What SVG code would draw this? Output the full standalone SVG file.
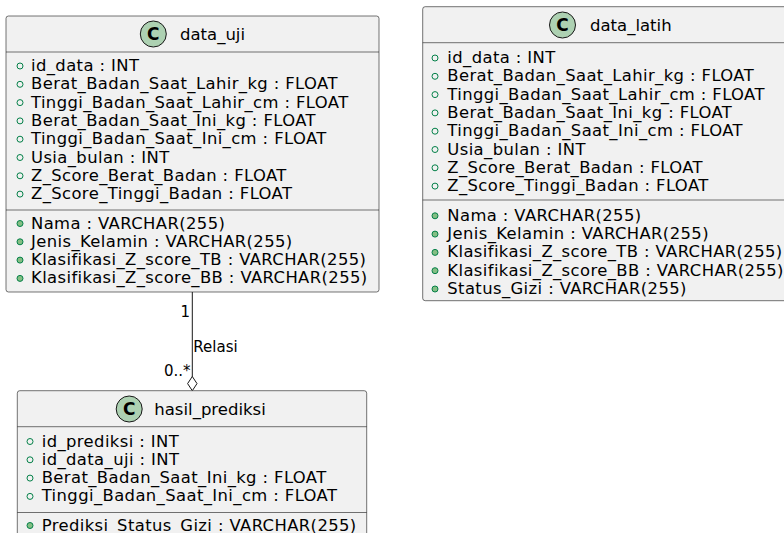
<svg xmlns="http://www.w3.org/2000/svg" width="784" height="533" viewBox="0 0 784 533">
<style>
.box{fill:#F1F1F1;stroke:#181818;stroke-width:0.6}
.sep{stroke:#181818;stroke-width:0.6}
.m{font-family:"DejaVu Sans",sans-serif;font-size:16.4px;letter-spacing:0.4px;fill:#000}
.t{font-family:"DejaVu Sans",sans-serif;font-size:16.5px;fill:#000}
.lbl{font-family:"DejaVu Sans",sans-serif;font-size:15px;fill:#000}
.ci{fill:#ADD1B2;stroke:#181818;stroke-width:1}
.cl{font-family:"DejaVu Sans",sans-serif;font-size:17px;font-weight:bold;fill:#000}
.fo{fill:none;stroke:#038048;stroke-width:1}
.mo{fill:#84BE84;stroke:#038048;stroke-width:1}
.edge{stroke:#181818;stroke-width:1;fill:none}
</style>
<g id="connectors">
<line class="edge" x1="192.3" y1="292" x2="192.3" y2="377"/>
<polygon points="192.3,376.5 197,383.6 192.3,390.7 187.6,383.6" fill="#FFFFFF" stroke="#181818" stroke-width="1"/>
<text class="lbl" x="190" y="316.7" text-anchor="end">1</text>
<text class="lbl" x="193.3" y="351.7">Relasi</text>
<text class="lbl" x="190.5" y="375.7" text-anchor="end">0..*</text>
</g>
<g id="data_uji">
<rect class="box" x="6" y="16" width="373" height="276" rx="2.5"/>
<line class="sep" x1="6" y1="52" x2="379" y2="52"/>
<line class="sep" x1="6" y1="210" x2="379" y2="210"/>
<circle class="ci" cx="153.3" cy="34" r="13"/>
<text class="cl" x="153.3" y="40" text-anchor="middle">C</text>
<text class="t" x="180" y="39.5">data_uji</text>
<circle class="fo" cx="20" cy="66" r="3"/><text class="m" x="31" y="71">id_data : INT</text>
<circle class="fo" cx="20" cy="84.3" r="3"/><text class="m" x="31" y="89.3">Berat_Badan_Saat_Lahir_kg : FLOAT</text>
<circle class="fo" cx="20" cy="102.6" r="3"/><text class="m" x="31" y="107.6">Tinggi_Badan_Saat_Lahir_cm : FLOAT</text>
<circle class="fo" cx="20" cy="120.9" r="3"/><text class="m" x="31" y="125.9">Berat_Badan_Saat_Ini_kg : FLOAT</text>
<circle class="fo" cx="20" cy="139.2" r="3"/><text class="m" x="31" y="144.2">Tinggi_Badan_Saat_Ini_cm : FLOAT</text>
<circle class="fo" cx="20" cy="157.5" r="3"/><text class="m" x="31" y="162.5">Usia_bulan : INT</text>
<circle class="fo" cx="20" cy="175.8" r="3"/><text class="m" x="31" y="180.8">Z_Score_Berat_Badan : FLOAT</text>
<circle class="fo" cx="20" cy="194.1" r="3"/><text class="m" x="31" y="199.1">Z_Score_Tinggi_Badan : FLOAT</text>
<circle class="mo" cx="20" cy="223.5" r="3"/><text class="m" x="31" y="228.5">Nama : VARCHAR(255)</text>
<circle class="mo" cx="20" cy="241.8" r="3"/><text class="m" x="31" y="246.8">Jenis_Kelamin : VARCHAR(255)</text>
<circle class="mo" cx="20" cy="260.1" r="3"/><text class="m" x="31" y="265.1">Klasifikasi_Z_score_TB : VARCHAR(255)</text>
<circle class="mo" cx="20" cy="278.4" r="3"/><text class="m" x="31" y="283.4">Klasifikasi_Z_score_BB : VARCHAR(255)</text>
</g>
<g id="data_latih">
<rect class="box" x="422.7" y="6.7" width="380" height="294" rx="2.5"/>
<line class="sep" x1="422.7" y1="42.7" x2="790" y2="42.7"/>
<line class="sep" x1="422.7" y1="200" x2="790" y2="200"/>
<circle class="ci" cx="562.5" cy="25" r="13"/>
<text class="cl" x="562.5" y="31" text-anchor="middle">C</text>
<text class="t" x="590" y="30.5">data_latih</text>
<circle class="fo" cx="435" cy="58" r="3"/><text class="m" x="447.3" y="63">id_data : INT</text>
<circle class="fo" cx="435" cy="76.3" r="3"/><text class="m" x="447.3" y="81.3">Berat_Badan_Saat_Lahir_kg : FLOAT</text>
<circle class="fo" cx="435" cy="94.6" r="3"/><text class="m" x="447.3" y="99.6">Tinggi_Badan_Saat_Lahir_cm : FLOAT</text>
<circle class="fo" cx="435" cy="112.9" r="3"/><text class="m" x="447.3" y="117.9">Berat_Badan_Saat_Ini_kg : FLOAT</text>
<circle class="fo" cx="435" cy="131.2" r="3"/><text class="m" x="447.3" y="136.2">Tinggi_Badan_Saat_Ini_cm : FLOAT</text>
<circle class="fo" cx="435" cy="149.5" r="3"/><text class="m" x="447.3" y="154.5">Usia_bulan : INT</text>
<circle class="fo" cx="435" cy="167.8" r="3"/><text class="m" x="447.3" y="172.8">Z_Score_Berat_Badan : FLOAT</text>
<circle class="fo" cx="435" cy="186.1" r="3"/><text class="m" x="447.3" y="191.1">Z_Score_Tinggi_Badan : FLOAT</text>
<circle class="mo" cx="435" cy="215.8" r="3"/><text class="m" x="447.3" y="220.8">Nama : VARCHAR(255)</text>
<circle class="mo" cx="435" cy="234.1" r="3"/><text class="m" x="447.3" y="239.1">Jenis_Kelamin : VARCHAR(255)</text>
<circle class="mo" cx="435" cy="252.4" r="3"/><text class="m" x="447.3" y="257.4">Klasifikasi_Z_score_TB : VARCHAR(255)</text>
<circle class="mo" cx="435" cy="270.7" r="3"/><text class="m" x="447.3" y="275.7">Klasifikasi_Z_score_BB : VARCHAR(255)</text>
<circle class="mo" cx="435" cy="289" r="3"/><text class="m" x="447.3" y="294">Status_Gizi : VARCHAR(255)</text>
</g>
<g id="hasil_prediksi">
<rect class="box" x="17.3" y="390.7" width="349.4" height="160" rx="2.5"/>
<line class="sep" x1="17.3" y1="426.7" x2="366.7" y2="426.7"/>
<line class="sep" x1="17.3" y1="512.5" x2="366.7" y2="512.5"/>
<circle class="ci" cx="129.2" cy="409" r="13"/>
<text class="cl" x="129.2" y="415" text-anchor="middle">C</text>
<text class="t" x="154.3" y="414.5">hasil_prediksi</text>
<circle class="fo" cx="30" cy="441.5" r="3"/><text class="m" x="41.7" y="446.5">id_prediksi : INT</text>
<circle class="fo" cx="30" cy="459.8" r="3"/><text class="m" x="41.7" y="464.8">id_data_uji : INT</text>
<circle class="fo" cx="30" cy="478.1" r="3"/><text class="m" x="41.7" y="483.1">Berat_Badan_Saat_Ini_kg : FLOAT</text>
<circle class="fo" cx="30" cy="496.4" r="3"/><text class="m" x="41.7" y="501.4">Tinggi_Badan_Saat_Ini_cm : FLOAT</text>
<circle class="mo" cx="30" cy="525.5" r="3"/><text class="m" x="41.7" y="530.5">Prediksi_Status_Gizi : VARCHAR(255)</text>
</g>
</svg>
